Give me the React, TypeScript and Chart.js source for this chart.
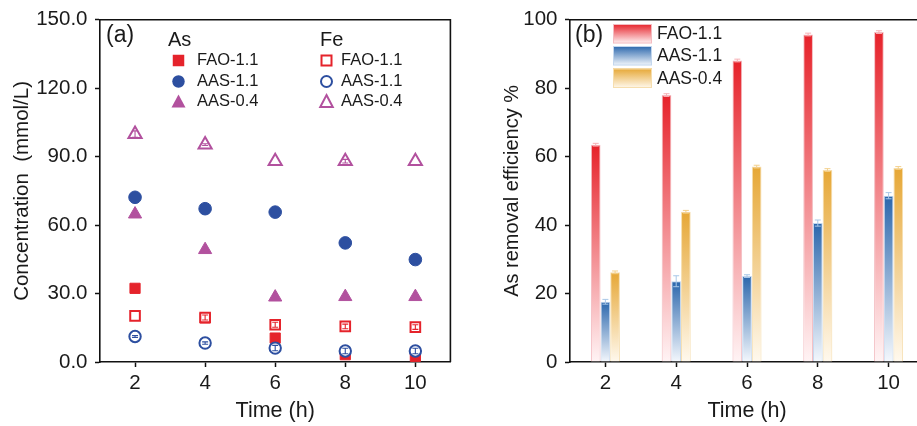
import React, { useEffect, useRef } from 'react';
import { Chart, registerables } from 'chart.js';
Chart.register(...registerables);

const FONT = '"Liberation Sans", Arial, Helvetica, sans-serif';
const TEXT = '#1a1a1a';
const AXIS = '#111111';

// ---------- Panel (a) data ----------
const timeH = [2, 4, 6, 8, 10];
const xTicksA = [2, 4, 6, 8, 10];
const concTicks = [0, 30, 60, 90, 120, 150];
const asFAO11 = [32.3, 19.3, 10.5, 3.2, 2.5];
const asAAS11 = [72.2, 67.2, 65.7, 52.2, 44.9];
const asAAS04 = [64.8, 49.2, 28.4, 28.6, 28.6];
const feFAO11 = [20.2, 19.5, 16.3, 15.6, 15.3];
const feAAS11 = [11.2, 8.3, 6.1, 4.8, 4.8];
const feAAS04 = [99.9, 95.3, 88.0, 88.0, 88.0];
const feFAO11Err = [0, 1.1, 1.1, 1.0, 1.0];
const feAAS11Err = [0.4, 0.5, 1.2, 1.2, 1.2];
const feAAS04Err = [1.4, 0.4, 0, 0.8, 0];
const legendGroups = ['As', 'Fe'];
const legendLabelsA = ['FAO-1.1', 'AAS-1.1', 'AAS-0.4'];

// ---------- Panel (b) data ----------
const timeLabels = ['2', '4', '6', '8', '10'];
const effTicks = [0, 20, 40, 60, 80, 100];
const effFAO11 = [63.5, 78.0, 88.1, 95.7, 96.4];
const effAAS11 = [17.6, 23.6, 25.1, 40.6, 48.6];
const effAAS04 = [26.2, 43.9, 57.1, 56.1, 56.7];
const errFAO11 = [0.4, 0.4, 0.4, 0.4, 0.4];
const errAAS11 = [0.7, 1.6, 0.4, 0.9, 0.9];
const errAAS04 = [0.4, 0.4, 0.4, 0.4, 0.4];
const legendLabelsB = ['FAO-1.1', 'AAS-1.1', 'AAS-0.4'];

const RED = '#E5232B';
const BLUE = '#2D4FA0';
const PURPLE = '#B2519E';

const BAR_TOP = ['#E6222A', '#2A66AC', '#E6A735'];
const BAR_BOTTOM = ['#FFF4F5', '#F4F8FD', '#FFF9EE'];
const BAR_BORDER = ['#F4BCC1', '#C3D7EE', '#F6DEAE'];
const ERR_COLOR = ['#F7B0B5', '#A9C8E8', '#F3D08C'];

function drawMarker(c: CanvasRenderingContext2D, style: string, x: number, y: number, size: number, color: string, filled: boolean) {
  c.save();
  c.beginPath();
  if (style === 'rect') {
    c.rect(x - size / 2, y - size / 2, size, size);
  } else if (style === 'circle') {
    c.arc(x, y, size / 2, 0, Math.PI * 2);
  } else {
    const h = size * 0.866;
    c.moveTo(x, y - h / 2 - 1);
    c.lineTo(x + size / 2, y + h / 2);
    c.lineTo(x - size / 2, y + h / 2);
    c.closePath();
  }
  if (filled) {
    c.fillStyle = color;
    c.fill();
  } else {
    c.fillStyle = '#fff';
    c.fill();
    c.lineWidth = 2;
    c.strokeStyle = color;
    c.stroke();
  }
  c.restore();
}

const framePlugin = {
  id: 'frame',
  afterDraw(chart: any) {
    const { ctx: c, chartArea: a } = chart;
    c.save();
    c.strokeStyle = AXIS;
    c.lineWidth = 1.6;
    c.beginPath();
    c.moveTo(a.left, a.top);
    c.lineTo(a.right, a.top);
    c.lineTo(a.right, a.bottom);
    c.stroke();
    c.restore();
  },
};

const errPluginA = {
  id: 'errA',
  afterDatasetsDraw(chart: any) {
    const c = chart.ctx;
    const ys = chart.scales.y;
    const xs = chart.scales.x;
    const sets = [
      { v: feFAO11, e: feFAO11Err, col: RED },
      { v: feAAS11, e: feAAS11Err, col: BLUE },
      { v: feAAS04, e: feAAS04Err, col: PURPLE },
    ];
    c.save();
    c.lineWidth = 1.1;
    sets.forEach((s) => {
      c.strokeStyle = s.col;
      s.v.forEach((val, i) => {
        const err = s.e[i];
        if (!err) return;
        const x = xs.getPixelForValue(timeH[i]);
        const y1 = ys.getPixelForValue(val + err);
        const y2 = ys.getPixelForValue(val - err);
        c.beginPath();
        c.moveTo(x, y1); c.lineTo(x, y2);
        c.moveTo(x - 3, y1); c.lineTo(x + 3, y1);
        c.moveTo(x - 3, y2); c.lineTo(x + 3, y2);
        c.stroke();
      });
    });
    c.restore();
  },
};

const legendPluginA = {
  id: 'legendA',
  afterDraw(chart: any) {
    const c = chart.ctx;
    c.save();
    c.fillStyle = TEXT;
    c.textAlign = 'left';
    c.textBaseline = 'middle';
    c.font = `23px ${FONT}`;
    c.fillText('(a)', 106, 36);
    c.font = `20px ${FONT}`;
    c.fillText(legendGroups[0], 168, 40);
    c.fillText(legendGroups[1], 320, 40);
    const rowsY = [60.5, 81.5, 101.5];
    const styles = ['rect', 'circle', 'triangle'];
    const cols = [RED, BLUE, PURPLE];
    const sizes = [11.5, 12.5, 14];
    c.font = `16.5px ${FONT}`;
    legendLabelsA.forEach((lab, i) => {
      drawMarker(c, styles[i], 178.5, rowsY[i], sizes[i], cols[i], true);
      drawMarker(c, styles[i], 326.5, rowsY[i], sizes[i] - 1.5, cols[i], false);
      c.fillStyle = TEXT;
      c.fillText(lab, 197, rowsY[i]);
      c.fillText(lab, 341, rowsY[i]);
    });
    c.restore();
  },
};

const errPluginB = {
  id: 'errB',
  afterDatasetsDraw(chart: any) {
    const c = chart.ctx;
    const ys = chart.scales.y;
    const vals = [effFAO11, effAAS11, effAAS04];
    const errs = [errFAO11, errAAS11, errAAS04];
    c.save();
    c.lineWidth = 1;
    vals.forEach((arr, d) => {
      const meta = chart.getDatasetMeta(d);
      c.strokeStyle = ERR_COLOR[d];
      arr.forEach((v, i) => {
        const el = meta.data[i];
        if (!el) return;
        const x = el.x;
        const y1 = ys.getPixelForValue(v + errs[d][i]);
        const y2 = ys.getPixelForValue(v - errs[d][i]);
        c.beginPath();
        c.moveTo(x, y1); c.lineTo(x, y2);
        c.moveTo(x - 3, y1); c.lineTo(x + 3, y1);
        c.moveTo(x - 3, y2); c.lineTo(x + 3, y2);
        c.stroke();
      });
    });
    c.restore();
  },
};

const legendPluginB = {
  id: 'legendB',
  afterDraw(chart: any) {
    const c = chart.ctx;
    c.save();
    c.fillStyle = TEXT;
    c.textAlign = 'left';
    c.textBaseline = 'middle';
    c.font = `23px ${FONT}`;
    c.fillText('(b)', 115, 36);
    const boxX = 153, boxW = 39, boxH = 19.5;
    const boxY = [24, 46, 68.5];
    c.font = `17.5px ${FONT}`;
    legendLabelsB.forEach((lab, i) => {
      const g = c.createLinearGradient(0, boxY[i], 0, boxY[i] + boxH);
      g.addColorStop(0, BAR_TOP[i]);
      g.addColorStop(1, BAR_BOTTOM[i]);
      c.fillStyle = g;
      c.fillRect(boxX, boxY[i], boxW, boxH);
      c.strokeStyle = BAR_BORDER[i];
      c.lineWidth = 1;
      c.strokeRect(boxX + 0.5, boxY[i] + 0.5, boxW - 1, boxH - 1);
      c.fillStyle = TEXT;
      c.fillText(lab, 197, boxY[i] + boxH / 2 + 0.5);
    });
    c.restore();
  },
};

function gradientFor(d: number) {
  return (ctx: any) => {
    const chart = ctx.chart;
    if (!chart.chartArea || ctx.type !== 'data' || !chart.scales.y) return BAR_TOP[d];
    const ys = chart.scales.y;
    const yTop = ys.getPixelForValue(ctx.raw as number);
    const yBot = ys.getPixelForValue(0);
    const g = chart.ctx.createLinearGradient(0, yTop, 0, yBot);
    g.addColorStop(0, BAR_TOP[d]);
    g.addColorStop(1, BAR_BOTTOM[d]);
    return g;
  };
}

const axisCommon = (tickFont: number) => ({
  border: { display: true, color: AXIS, width: 1.6 },
  grid: {
    display: true,
    drawOnChartArea: false,
    drawTicks: true,
    tickLength: 5,
    tickWidth: 1.5,
    tickColor: AXIS,
    color: AXIS,
  },
  ticks: { color: TEXT, font: { family: FONT, size: tickFont } },
});

export default function App() {
  const refA = useRef<HTMLCanvasElement>(null);
  const refB = useRef<HTMLCanvasElement>(null);

  useEffect(() => {
    const pts = (arr: number[]) => timeH.map((x, i) => ({ x, y: arr[i] }));
    const filled = (label: string, arr: number[], style: string, col: string, r: number) => ({
      label, data: pts(arr), pointStyle: style, pointRadius: r, pointBackgroundColor: col,
      pointBorderColor: col, pointBorderWidth: 1, showLine: false, order: 2,
    });
    const hollow = (label: string, arr: number[], style: string, col: string, r: number) => ({
      label, data: pts(arr), pointStyle: style, pointRadius: r, pointBackgroundColor: '#ffffff',
      pointBorderColor: col, pointBorderWidth: 2, showLine: false, order: 1,
    });

    const cA = new Chart(refA.current as HTMLCanvasElement, {
      type: 'scatter',
      data: {
        datasets: [
          hollow('Fe FAO-1.1', feFAO11, 'rect', RED, 6.8),
          hollow('Fe AAS-1.1', feAAS11, 'circle', BLUE, 5.7),
          hollow('Fe AAS-0.4', feAAS04, 'triangle', PURPLE, 7.6),
          filled('As FAO-1.1', asFAO11, 'rect', RED, 7.2),
          filled('As AAS-1.1', asAAS11, 'circle', BLUE, 6.3),
          filled('As AAS-0.4', asAAS04, 'triangle', PURPLE, 7.6),
        ] as any,
      },
      options: {
        animation: false,
        responsive: false,
        devicePixelRatio: 1,
        events: [],
        layout: { padding: { top: 19, right: 5, left: 0, bottom: 0 } },
        plugins: { legend: { display: false }, tooltip: { enabled: false } },
        scales: {
          x: {
            type: 'linear',
            min: 1,
            max: 11,
            ...axisCommon(20),
            ticks: { color: TEXT, font: { family: FONT, size: 20.5 }, padding: 4 },
            afterBuildTicks: (s: any) => { s.ticks = xTicksA.map((v) => ({ value: v })); },
            afterFit: (s: any) => { s.height = 64; },
            title: { display: true, text: 'Time (h)', color: TEXT, font: { family: FONT, size: 21.5 }, padding: { top: 0, bottom: 2 } },
          },
          y: {
            type: 'linear',
            min: 0,
            max: 150,
            ...axisCommon(20),
            ticks: { color: TEXT, font: { family: FONT, size: 20.5 }, padding: 7.5, callback: (v: any) => Number(v).toFixed(1) },
            afterBuildTicks: (s: any) => { s.ticks = concTicks.map((v) => ({ value: v })); },
            afterFit: (s: any) => { s.width = 100; },
            title: { display: true, text: 'Concentration  (mmol/L)', color: TEXT, font: { family: FONT, size: 20.5 }, padding: { top: 10, bottom: 0 } },
          },
        },
      } as any,
      plugins: [framePlugin, errPluginA, legendPluginA],
    });

    const barDs = (label: string, arr: number[], d: number) => ({
      label, data: arr, backgroundColor: gradientFor(d), borderColor: BAR_BORDER[d], borderWidth: 1,
      categoryPercentage: 0.41, barPercentage: 1.0,
    });

    const cB = new Chart(refB.current as HTMLCanvasElement, {
      type: 'bar',
      data: {
        labels: timeLabels,
        datasets: [barDs('FAO-1.1', effFAO11, 0), barDs('AAS-1.1', effAAS11, 1), barDs('AAS-0.4', effAAS04, 2)] as any,
      },
      options: {
        animation: false,
        responsive: false,
        devicePixelRatio: 1,
        events: [],
        layout: { padding: { top: 19, right: 6, left: 0, bottom: 0 } },
        plugins: { legend: { display: false }, tooltip: { enabled: false } },
        scales: {
          x: {
            type: 'category',
            ...axisCommon(20),
            grid: { display: true, drawOnChartArea: false, drawTicks: true, tickLength: 5, tickWidth: 1.5, tickColor: AXIS, color: AXIS, offset: false },
            ticks: { color: TEXT, font: { family: FONT, size: 20.5 }, padding: 4 },
            afterFit: (s: any) => { s.height = 64; },
            title: { display: true, text: 'Time (h)', color: TEXT, font: { family: FONT, size: 21.5 }, padding: { top: 0, bottom: 2 } },
          },
          y: {
            type: 'linear',
            min: 0,
            max: 100,
            ...axisCommon(20),
            ticks: { color: TEXT, font: { family: FONT, size: 20.5 }, padding: 7.5 },
            afterBuildTicks: (s: any) => { s.ticks = effTicks.map((v) => ({ value: v })); },
            afterFit: (s: any) => { s.width = 110; },
            title: { display: true, text: 'As removal efficiency %', color: TEXT, font: { family: FONT, size: 20 }, padding: { top: 40, bottom: 0 } },
          },
        },
      } as any,
      plugins: [framePlugin, errPluginB, legendPluginB],
    });

    return () => {
      cA.destroy();
      cB.destroy();
    };
  }, []);

  return (
    <div style={{ position: 'fixed', left: 0, top: 0, width: 917, height: 426, overflow: 'hidden', background: '#ffffff' }}>
      <div style={{ position: 'absolute', left: 0, top: 0, width: 460, height: 426 }}>
        <canvas ref={refA} width={460} height={426} />
      </div>
      <div style={{ position: 'absolute', left: 460, top: 0, width: 470, height: 426 }}>
        <canvas ref={refB} width={470} height={426} />
      </div>
    </div>
  );
}
